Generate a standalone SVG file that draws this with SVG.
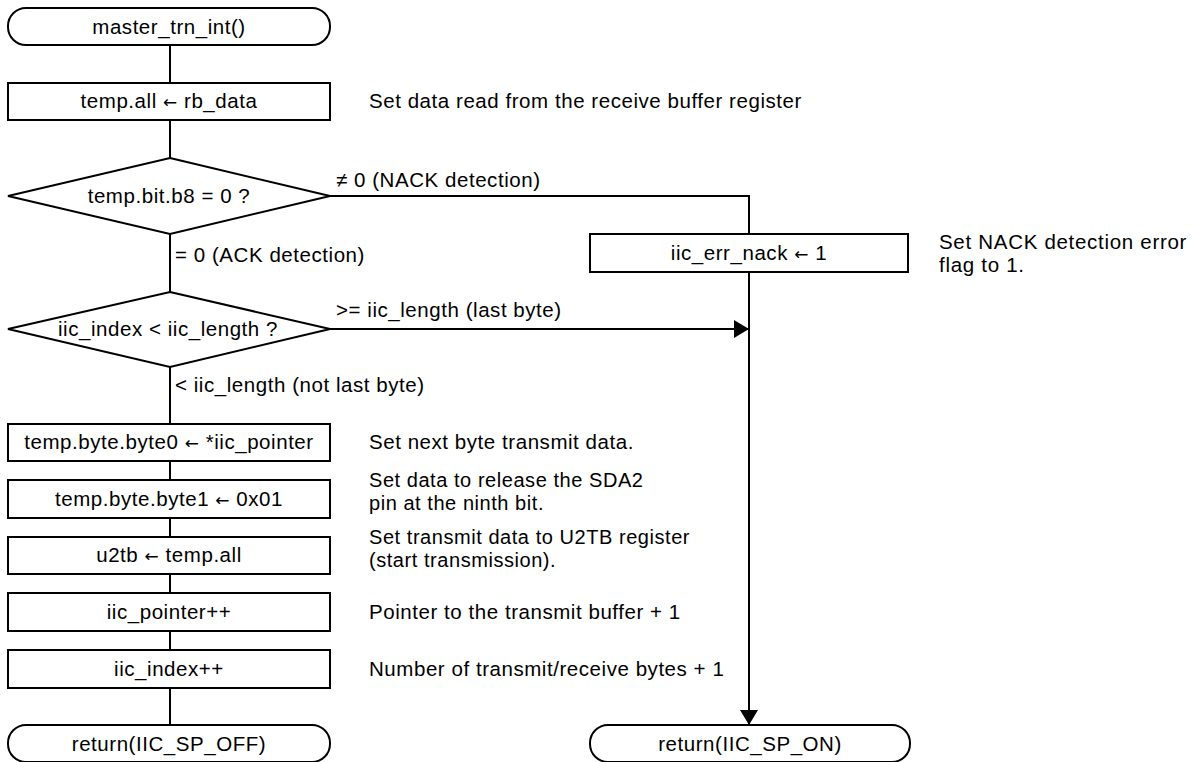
<svg xmlns="http://www.w3.org/2000/svg" width="1201" height="762" viewBox="0 0 1201 762">
  <defs>
    <style>
      .shape { fill: #fff; stroke: #000; stroke-width: 2; }
      .wire { fill: none; stroke: #000; stroke-width: 2; }
      text { font-family: "Liberation Sans", Arial, sans-serif; font-size: 20.5px; letter-spacing: 0.55px; fill: #000; }
      .c { text-anchor: middle; }
      .ar { font-family: "DejaVu Sans", sans-serif; font-size: 17px; }
      .note { font-size: 20px; }
      .note2 { font-size: 20.5px; letter-spacing: 0.7px; }
    </style>
    <marker id="arrow" markerUnits="userSpaceOnUse" markerWidth="16" markerHeight="18" refX="15" refY="9" orient="auto">
      <path d="M0,0 L15,9 L0,18 Z" fill="#000"/>
    </marker>
  </defs>

  <rect width="1201" height="762" fill="#fff"/>

  <!-- connectors -->
  <g id="connectors">
    <line class="wire" x1="170" y1="45" x2="170" y2="83"/>
    <line class="wire" x1="170" y1="120" x2="170" y2="158"/>
    <line class="wire" x1="170" y1="234" x2="170" y2="292"/>
    <line class="wire" x1="170" y1="367" x2="170" y2="424"/>
    <line class="wire" x1="170" y1="461" x2="170" y2="480"/>
    <line class="wire" x1="170" y1="518" x2="170" y2="537"/>
    <line class="wire" x1="170" y1="574" x2="170" y2="593"/>
    <line class="wire" x1="170" y1="631" x2="170" y2="650"/>
    <line class="wire" x1="170" y1="688" x2="170" y2="725"/>
    <polyline class="wire" points="330,196 749,196 749,234"/>
    <line class="wire" x1="749" y1="272" x2="749" y2="725" marker-end="url(#arrow)"/>
    <line class="wire" x1="330" y1="329" x2="749" y2="329" marker-end="url(#arrow)"/>
    <text x="336" y="187">≠ 0 (NACK detection)</text>
    <text x="175" y="262">= 0 (ACK detection)</text>
    <text x="336" y="317">&gt;= iic_length (last byte)</text>
    <text x="175" y="392">&lt; iic_length (not last byte)</text>
  </g>

  <!-- start terminal -->
  <g id="start">
    <rect class="shape" x="8" y="8" width="322" height="37" rx="18" ry="18"/>
    <text class="c" x="169" y="34">master_trn_int()</text>
  </g>

  <g id="read-data">
    <rect class="shape" x="8" y="83" width="322" height="37"/>
    <text class="c" x="169" y="108">temp.all <tspan class="ar">←</tspan> rb_data</text>
    <text x="369" y="108">Set data read from the receive buffer register</text>
  </g>

  <g id="ack-check">
    <polygon class="shape" points="170,158 330,196 170,234 8,196"/>
    <text class="c" x="169" y="203">temp.bit.b8 = 0 ?</text>
  </g>

  <g id="nack-flag">
    <rect class="shape" x="590" y="234" width="318" height="38"/>
    <text class="c" x="749" y="260">iic_err_nack <tspan class="ar">←</tspan> 1</text>
    <text class="note2" x="939" y="249">Set NACK detection error</text>
    <text class="note2" x="939" y="272">flag to 1.</text>
  </g>

  <g id="length-check">
    <polygon class="shape" points="170,292 330,329 170,367 8,329"/>
    <text class="c" x="168" y="336">iic_index &lt; iic_length ?</text>
  </g>

  <g id="set-byte0">
    <rect class="shape" x="8" y="424" width="322" height="37"/>
    <text class="c" x="169" y="449">temp.byte.byte0 <tspan class="ar">←</tspan> *iic_pointer</text>
    <text x="369" y="449">Set next byte transmit data.</text>
  </g>

  <g id="set-byte1">
    <rect class="shape" x="8" y="480" width="322" height="38"/>
    <text class="c" x="169" y="506">temp.byte.byte1 <tspan class="ar">←</tspan> 0x01</text>
    <text class="note" x="369" y="487">Set data to release the SDA2</text>
    <text class="note" x="369" y="510">pin at the ninth bit.</text>
  </g>

  <g id="write-u2tb">
    <rect class="shape" x="8" y="537" width="322" height="37"/>
    <text class="c" x="169" y="562">u2tb <tspan class="ar">←</tspan> temp.all</text>
    <text class="note" x="369" y="544">Set transmit data to U2TB register</text>
    <text class="note" x="369" y="567">(start transmission).</text>
  </g>

  <g id="inc-pointer">
    <rect class="shape" x="8" y="593" width="322" height="38"/>
    <text class="c" x="169" y="619">iic_pointer++</text>
    <text x="369" y="619">Pointer to the transmit buffer + 1</text>
  </g>

  <g id="inc-index">
    <rect class="shape" x="8" y="650" width="322" height="38"/>
    <text class="c" x="169" y="676">iic_index++</text>
    <text x="369" y="676">Number of transmit/receive bytes + 1</text>
  </g>

  <g id="return-off">
    <rect class="shape" x="8" y="725" width="322" height="37" rx="18" ry="18"/>
    <text class="c" x="169" y="751">return(IIC_SP_OFF)</text>
  </g>

  <g id="return-on">
    <rect class="shape" x="590" y="725" width="320" height="37" rx="18" ry="18"/>
    <text class="c" x="750" y="751">return(IIC_SP_ON)</text>
  </g>
</svg>
